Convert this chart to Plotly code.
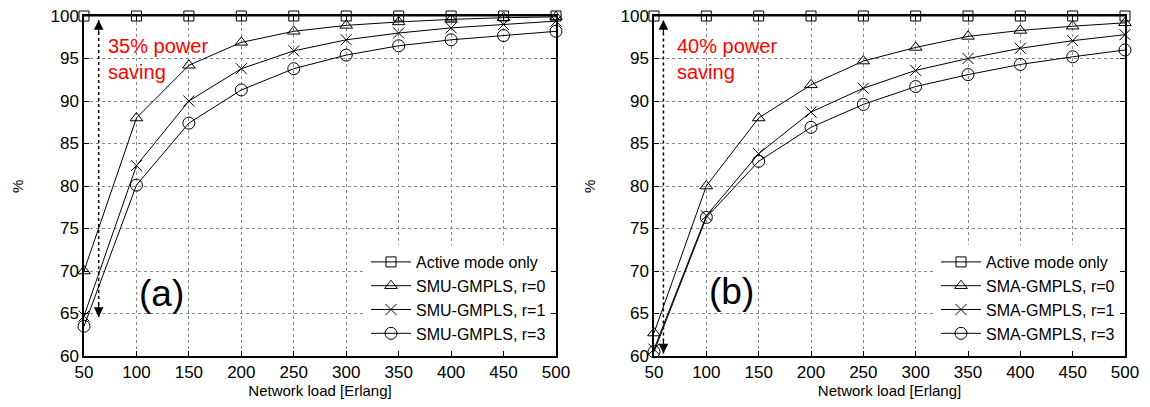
import plotly.graph_objects as go

# ---------------- data ----------------
load = [50, 100, 150, 200, 250, 300, 350, 400, 450, 500]

active_a = [100, 100, 100, 100, 100, 100, 100, 100, 100, 100]
smu_r0 = [70.0, 88.0, 94.2, 96.9, 98.2, 98.9, 99.3, 99.6, 99.8, 99.9]
smu_r1 = [64.7, 82.4, 90.0, 93.8, 95.9, 97.2, 98.0, 98.6, 99.0, 99.4]
smu_r3 = [63.5, 80.1, 87.4, 91.3, 93.8, 95.4, 96.5, 97.2, 97.7, 98.2]

active_b = [100, 100, 100, 100, 100, 100, 100, 100, 100, 100]
sma_r0 = [62.7, 80.0, 88.0, 91.9, 94.7, 96.3, 97.6, 98.3, 98.8, 99.2]
sma_r1 = [60.8, 76.5, 83.8, 88.7, 91.5, 93.6, 95.0, 96.2, 97.1, 97.8]
sma_r3 = [60.5, 76.3, 82.9, 86.9, 89.6, 91.7, 93.1, 94.3, 95.2, 96.0]

names_a = ["Active mode only", "SMU-GMPLS, r=0", "SMU-GMPLS, r=1", "SMU-GMPLS, r=3"]
names_b = ["Active mode only", "SMA-GMPLS, r=0", "SMA-GMPLS, r=1", "SMA-GMPLS, r=3"]

x_ticks = [50, 100, 150, 200, 250, 300, 350, 400, 450, 500]
y_ticks = [60, 65, 70, 75, 80, 85, 90, 95, 100]

saving_a = "35% power<br>saving"
saving_b = "40% power<br>saving"
arrow_a = dict(x=64, y0=64.6, y1=99.5)
arrow_b = dict(x=59, y0=60.3, y1=99.5)
label_a = dict(text="(a)", x=123.8, y=67.3)
label_b = dict(text="(b)", x=124.5, y=67.6)

# ---------------- styles ----------------
symbols = ["square-open", "triangle-up-open", "x-thin-open", "circle-open"]
sizes = [10, 11, 11, 12]
FONT = "Liberation Sans, Arial, sans-serif"
W, H = 1134, 391   # figure fits inside the 1150x407 window with the page margin
OFF = 7            # page offset of the figure inside the browser window

fig = go.Figure()


def add_panel(series, names, xa, ya, legend):
    for vals, nm, sym, sz in zip(series, names, symbols, sizes):
        fig.add_trace(go.Scatter(
            x=load, y=vals, name=nm, mode="lines+markers",
            line=dict(color="black", width=1),
            marker=dict(symbol=sym, size=sz, color="black",
                        line=dict(color="black", width=1)),
            xaxis=xa, yaxis=ya, legend=legend, cliponaxis=False,
        ))


add_panel([active_a, smu_r0, smu_r1, smu_r3], names_a, "x", "y", "legend")
add_panel([active_b, sma_r0, sma_r1, sma_r3], names_b, "x2", "y2", "legend2")

axis_common = dict(
    automargin=False, ticklabeloverflow="allow",
    showline=True, linecolor="black", linewidth=1.5, mirror="allticks",
    ticks="inside", ticklen=5, tickcolor="black", tickwidth=1,
    showgrid=True, gridcolor="#8a8a8a", gridwidth=1, griddash="dot",
    zeroline=False, tickfont=dict(family=FONT, size=17, color="black"),
)


def dx(px):
    return (px - OFF) / W


def dy(py):
    return 1 - (py - OFF) / H


dom_xa = [dx(83), dx(555)]
dom_xb = [dx(653), dx(1124)]
dom_y = [dy(355), dy(15)]

xtitle = dict(text="Network load [Erlang]", font=dict(size=15), standoff=7)

fig.update_layout(
    template="none",
    width=W, height=H,
    margin=dict(l=0, r=0, t=0, b=0, autoexpand=False),
    paper_bgcolor="white", plot_bgcolor="white",
    font=dict(family=FONT, color="black"),
    xaxis=dict(domain=dom_xa, range=[50, 500], tickvals=x_ticks, anchor="y",
               title=xtitle, **axis_common),
    yaxis=dict(domain=dom_y, range=[60, 100], tickvals=y_ticks, anchor="x", **axis_common),
    xaxis2=dict(domain=dom_xb, range=[50, 500], tickvals=x_ticks, anchor="y2",
                title=xtitle, **axis_common),
    yaxis2=dict(domain=dom_y, range=[60, 100], tickvals=y_ticks, anchor="x2", **axis_common),
    legend=dict(x=dx(550), y=dy(350), xanchor="right", yanchor="bottom",
                bgcolor="white", font=dict(family=FONT, size=16), tracegroupgap=0,
                itemwidth=40),
    legend2=dict(x=dx(1119), y=dy(350), xanchor="right", yanchor="bottom",
                 bgcolor="white", font=dict(family=FONT, size=16), tracegroupgap=0,
                 itemwidth=40),
    showlegend=True,
)

annotations = []
shapes = []
for xa, ya, txt, arr, lab, pctx in [("x", "y", saving_a, arrow_a, label_a, 16),
                                   ("x2", "y2", saving_b, arrow_b, label_b, 588)]:
    annotations.append(dict(xref=xa, yref=ya, x=70.5, y=98.0,
                            text=txt, showarrow=False, xanchor="left", yanchor="top",
                            align="left", font=dict(family=FONT, size=20, color="red")))
    annotations.append(dict(xref=xa, yref=ya, x=lab["x"], y=lab["y"], text=lab["text"],
                            showarrow=False, xanchor="center", yanchor="middle",
                            font=dict(family=FONT, size=37, color="black")))
    annotations.append(dict(xref="paper", yref="paper", x=dx(pctx), y=dy(186),
                            text="%", showarrow=False, textangle=-90,
                            xanchor="center", yanchor="middle",
                            font=dict(family=FONT, size=15, color="black")))
    # arrowheads at both ends of the dotted saving arrow
    annotations.append(dict(xref=xa, yref=ya, x=arr["x"], y=arr["y1"], ax=0, ay=14,
                            showarrow=True, arrowhead=2, arrowsize=1.6, arrowwidth=1.2,
                            arrowcolor="black", text=""))
    annotations.append(dict(xref=xa, yref=ya, x=arr["x"], y=arr["y0"], ax=0, ay=-14,
                            showarrow=True, arrowhead=2, arrowsize=1.6, arrowwidth=1.2,
                            arrowcolor="black", text=""))
    shapes.append(dict(type="line", xref=xa, yref=ya, x0=arr["x"], x1=arr["x"],
                       y0=arr["y0"], y1=arr["y1"],
                       line=dict(color="black", width=1.5, dash="dot")))

fig.update_layout(annotations=annotations, shapes=shapes)

fig.write_html("out.html")
